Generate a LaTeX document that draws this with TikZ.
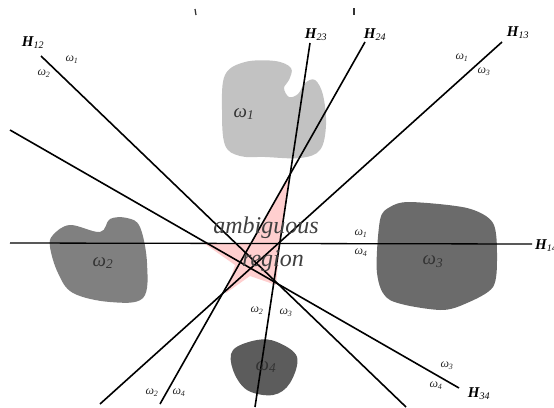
\documentclass[tikz,border=0pt]{standalone}
\usepackage{fontspec}
\setmainfont{Liberation Serif}
\begin{document}
\begin{tikzpicture}[x=1pt,y=-1pt,
  hyper/.style={line width=1.6pt,black},
  hlab/.style={font=\fontsize{15}{15}\selectfont\bfseries\itshape,inner sep=0pt},
  wlab/.style={font=\fontsize{12}{12}\selectfont\itshape,inner sep=0pt,text=black!85},
  blab/.style={font=\fontsize{19}{19}\selectfont\itshape,inner sep=0pt,text=black!80},
  amb/.style={font=\fontsize{24}{24}\selectfont\itshape,inner sep=0pt,text=black!75}]
\newcommand\hsub[1]{H\textsubscript{\normalfont\itshape\fontsize{10}{10}\selectfont #1}}
\newcommand\wsub[1]{ω\textsubscript{#1}}
\useasboundingbox (0,0) rectangle (554,407);
% blobs
\fill[black!24] plot[smooth cycle,tension=0.6] coordinates {(225,75) (245,62) (275,61) (291,68) (289,80) (284,88) (289,97) (298,94) (305,83) (315,80) (323,95) (326,125) (320,150) (300,158) (265,157) (240,156) (225,145) (222,110)};
\fill[black!50] plot[smooth cycle,tension=0.6] coordinates {(53,235) (70,225) (100,232) (110,219) (127,218) (140,227) (147,263) (143,298) (110,302) (73,293) (58,273) (50,247)};
\fill[black!58] plot[smooth cycle,tension=0.5] coordinates {(390,207) (410,202) (467,208) (493,223) (497,257) (493,287) (467,303) (440,310) (390,300) (377,273) (380,220)};
\fill[black!64] plot[smooth cycle,tension=0.6] coordinates {(233,350) (257,340) (277,342) (297,357) (290,383) (273,395) (247,390) (233,370)};
% ambiguous region
\fill[pink!75!white] (289,177) -- (280,243) -- (276,285) -- (250,276) -- (226,293) -- (235,265) -- (205,244) -- (252,243) -- cycle;
% hyperplanes
\coordinate (a12) at (41,56);   \coordinate (b12) at (406,407);
\coordinate (a34) at (10,130);  \coordinate (b34) at (459,388);
\coordinate (a23) at (310,43);  \coordinate (b23) at (255,407);
\coordinate (a24) at (365,42);  \coordinate (b24) at (160,404);
\coordinate (a13) at (502,42);  \coordinate (b13) at (100,404);
\coordinate (a14) at (10,243);  \coordinate (b14) at (532,244);
\draw[hyper] (a12) -- (b12);
\draw[hyper] (a34) -- (b34);
\draw[hyper] (a23) -- (b23);
\draw[hyper] (a24) -- (b24);
\draw[hyper] (a13) -- (b13);
\draw[hyper,line width=1.3pt] (a14) -- (b14);
% small marks at top
\draw[line width=1.3pt,black!80] (195,9) -- (196,15);
\draw[line width=1.1pt,black!80] (354,8) -- (354,15);
% hyperplane labels
\node[hlab] (t12) at (33,43) {\hsub{12}};
\node[hlab] (t23) at (316,35) {\hsub{23}};
\node[hlab] (t24) at (375,35) {\hsub{24}};
\node[hlab] (t13) at (518,33) {\hsub{13}};
\node[hlab,anchor=west] (t14) at (535,246) {\hsub{14}};
\node[hlab] (t34) at (479,394) {\hsub{34}};
% class side labels
\node[wlab] (s1) at (72,60) {\wsub{1}};
\node[wlab] (s2) at (44,74) {\wsub{2}};
\node[wlab] (s3) at (462,58) {\wsub{1}};
\node[wlab] (s4) at (484,72) {\wsub{3}};
\node[wlab] (s5) at (361,234) {\wsub{1}};
\node[wlab] (s6) at (361,253) {\wsub{4}};
\node[wlab] (s7) at (257,311) {\wsub{2}};
\node[wlab] (s8) at (286,313) {\wsub{3}};
\node[wlab] (s9) at (152,393) {\wsub{2}};
\node[wlab] (s10) at (179,393) {\wsub{4}};
\node[wlab] (s11) at (447,366) {\wsub{3}};
\node[wlab] (s12) at (436,386) {\wsub{4}};
% blob labels
\node[blab] (w1) at (244,114) {\wsub{1}};
\node[blab] (w2) at (103,263) {\wsub{2}};
\node[blab] (w3) at (433,262) {\wsub{3}};
\node[blab] (w4) at (266,367) {\wsub{4}};
% region text
\node[amb] (r1) at (266,228) {ambiguous};
\node[amb] (r2) at (273,261) {region};
\end{tikzpicture}
\end{document}
